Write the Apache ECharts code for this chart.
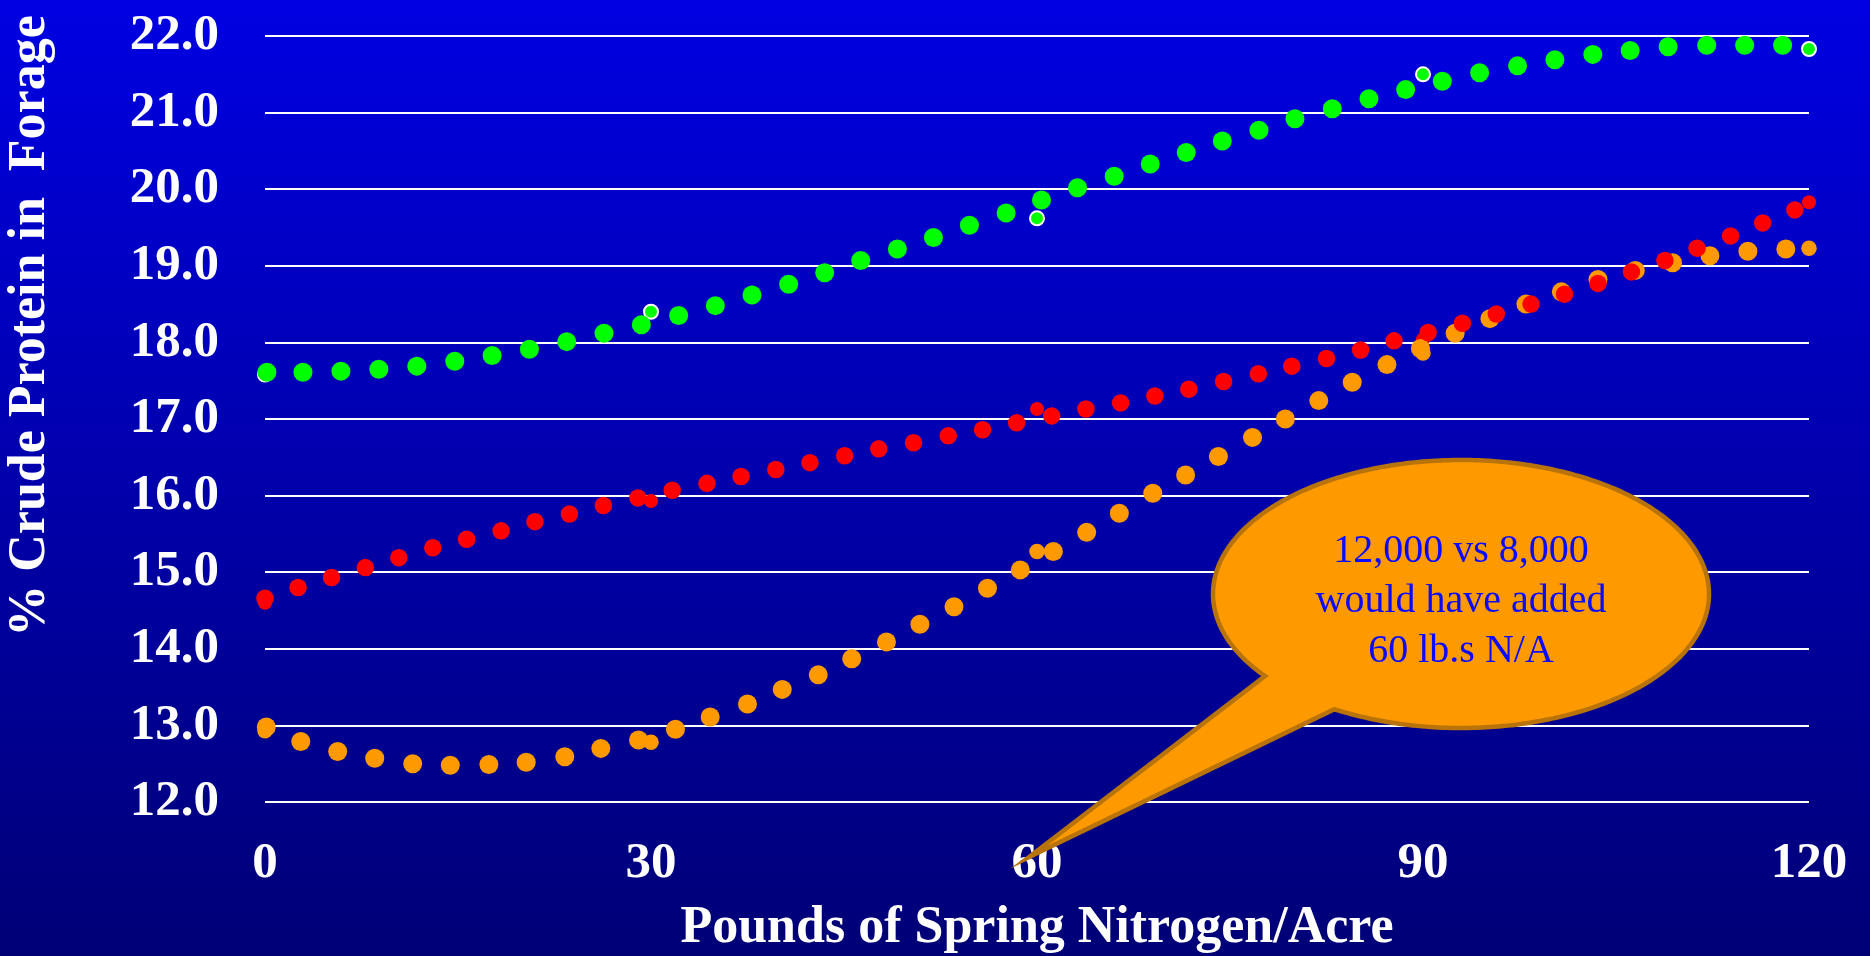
<!DOCTYPE html>
<html>
<head>
<meta charset="utf-8">
<title>Crude Protein in Forage vs Spring Nitrogen</title>
<style>
  html, body { margin: 0; padding: 0; background: #000080; }
  #chart { width: 1870px; height: 956px; }
</style>
<script src="https://cdn.jsdelivr.net/npm/echarts@6/dist/echarts.min.js"></script>
</head>
<body>
<div id="chart"></div>
<script>
// ---- data -------------------------------------------------------------
// x axis ticks (lb N / acre)
const xTicks = [0, 30, 60, 90, 120];
// y axis range (% crude protein)
const yTicks = [12, 13, 14, 15, 16, 17, 18, 19, 20, 21, 22];

// Upper (green) set: fitted curve points
const greenFitX = [0.15, 2.95, 5.9, 8.85, 11.8, 14.75, 17.65, 20.55, 23.45, 26.35, 29.25,
  32.15, 35.0, 37.85, 40.7, 43.5, 46.3, 49.15, 51.95, 54.75, 57.6, 60.35, 63.15, 66.0,
  68.8, 71.6, 74.4, 77.25, 80.05, 82.95, 85.8, 88.65, 91.5, 94.4, 97.35, 100.25, 103.2,
  106.1, 109.05, 112.05, 115.0, 117.95];
const greenFitY = [17.61, 17.61, 17.625, 17.65, 17.69, 17.755, 17.83, 17.91, 18.01, 18.12, 18.23,
  18.35, 18.48, 18.62, 18.76, 18.91, 19.07, 19.22, 19.37, 19.53, 19.69, 19.86, 20.02, 20.17,
  20.33, 20.48, 20.63, 20.77, 20.92, 21.05, 21.18, 21.30, 21.41, 21.52, 21.61, 21.69, 21.76,
  21.81, 21.86, 21.88, 21.88, 21.88];
// Upper (green) set: measured rates
const greenObsX = [0, 30, 60, 90, 120];
const greenObsY = [17.58, 18.40, 19.62, 21.50, 21.83];

// Middle (red) set: fitted curve points
const redFitX = [0, 2.57, 5.17, 7.8, 10.4, 13.04, 15.67, 18.35, 20.98, 23.66, 26.3, 28.98,
  31.65, 34.35, 37.0, 39.7, 42.35, 45.05, 47.7, 50.4, 53.1, 55.77, 58.42, 61.14, 63.8,
  66.5, 69.16, 71.8, 74.5, 77.2, 79.8, 82.5, 85.15, 87.75, 90.4, 93.06, 95.7, 98.4,
  101.0, 103.6, 106.2, 108.8, 111.3, 113.9, 116.4, 118.9];
const redFitY = [14.66, 14.80, 14.93, 15.06, 15.19, 15.32, 15.43, 15.54, 15.66, 15.76, 15.87, 15.97,
  16.07, 16.16, 16.25, 16.34, 16.43, 16.52, 16.61, 16.69, 16.78, 16.86, 16.95, 17.04, 17.13,
  17.21, 17.30, 17.39, 17.49, 17.59, 17.69, 17.79, 17.90, 18.02, 18.13, 18.25, 18.37, 18.50,
  18.63, 18.77, 18.92, 19.07, 19.23, 19.39, 19.56, 19.73];
// Middle (red) set: measured rates
const redObsX = [0, 30, 60, 90, 120];
const redObsY = [14.60, 15.93, 17.13, 18.04, 19.83];

// Lower (orange) set: fitted curve points
const orangeFitX = [0.1, 2.78, 5.65, 8.53, 11.48, 14.4, 17.4, 20.3, 23.3, 26.1, 29.03,
  31.9, 34.6, 37.5, 40.2, 43.0, 45.6, 48.3, 50.9, 53.55, 56.15, 58.7, 61.27, 63.86,
  66.4, 69.0, 71.55, 74.1, 76.75, 79.3, 81.9, 84.5, 87.2, 89.8, 92.5, 95.2, 98.0,
  100.75, 103.6, 106.5, 109.4, 112.3, 115.25, 118.2];
const orangeFitY = [12.98, 12.79, 12.66, 12.57, 12.50, 12.48, 12.49, 12.52, 12.59, 12.70, 12.81,
  12.95, 13.11, 13.28, 13.47, 13.66, 13.87, 14.09, 14.32, 14.55, 14.79, 15.03, 15.27, 15.52,
  15.77, 16.03, 16.27, 16.51, 16.76, 17.00, 17.24, 17.48, 17.71, 17.92, 18.12, 18.31, 18.50,
  18.66, 18.82, 18.94, 19.04, 19.13, 19.19, 19.22];
// Lower (orange) set: measured rates
const orangeObsX = [0, 30, 60, 90, 120];
const orangeObsY = [12.93, 12.78, 15.27, 17.86, 19.23];

// Callout text
const calloutLines = ['12,000 vs 8,000', 'would have added', '60 lb.s N/A'];

// ---- chart ------------------------------------------------------------
const SERIF = "'Liberation Serif', 'Times New Roman', serif";
const pairs = (xs, ys) => xs.map((x, i) => [x, ys[i]]);

const chart = echarts.init(document.getElementById('chart'), null, { renderer: 'canvas' });

function dots(name, xs, ys, size, color, extra) {
  return Object.assign({
    type: 'scatter',
    name: name,
    data: pairs(xs, ys),
    symbol: 'circle',
    symbolSize: size,
    itemStyle: { color: color, opacity: 1 },
    silent: true,
    clip: false
  }, extra || {});
}

const option = {
  animation: false,
  backgroundColor: {
    type: 'linear', x: 0, y: 0, x2: 0, y2: 1,
    colorStops: [
      { offset: 0, color: '#0000E2' },
      { offset: 1, color: '#000076' }
    ]
  },
  grid: { left: 265, right: 61, top: 36, bottom: 154, containLabel: false, outerBoundsMode: 'none' },
  xAxis: {
    type: 'value',
    min: xTicks[0],
    max: xTicks[xTicks.length - 1],
    interval: xTicks[1] - xTicks[0],
    axisLine: { show: false },
    axisTick: { show: false },
    splitLine: { show: false },
    axisLabel: {
      color: '#ffffff', fontFamily: SERIF, fontWeight: 'bold', fontSize: 51, margin: 36
    },
    name: 'Pounds of Spring Nitrogen/Acre',
    nameLocation: 'middle',
    nameGap: 101,
    nameTextStyle: { color: '#ffffff', fontFamily: SERIF, fontWeight: 'bold', fontSize: 52 }
  },
  yAxis: {
    type: 'value',
    min: yTicks[0],
    max: yTicks[yTicks.length - 1],
    interval: yTicks[1] - yTicks[0],
    axisLine: { show: false },
    axisTick: { show: false },
    splitLine: { show: true, lineStyle: { color: '#ffffff', width: 2 } },
    axisLabel: {
      color: '#ffffff', fontFamily: SERIF, fontWeight: 'bold', fontSize: 51, margin: 46,
      formatter: v => v.toFixed(1)
    }
  },
  series: [
    dots('Red measured', redObsX, redObsY, 14, '#FF0000'),
    dots('Orange fit', orangeFitX, orangeFitY, 19, '#FF9900'),
    dots('Orange measured', orangeObsX, orangeObsY, 15.5, '#FF9900'),
    dots('Red fit', redFitX, redFitY, 17.5, '#FF0000'),
    dots('Green measured', greenObsX, greenObsY, 14, '#00FF00',
      { itemStyle: { color: '#00FF00', borderColor: '#ffffff', borderWidth: 2, opacity: 1 } }),
    dots('Green fit', greenFitX, greenFitY, 19, '#00FF00')
  ]
};

chart.setOption(option);

// ---- annotations (vertical axis title, speech-bubble callout) ----------
const bubble = { cx: 1461, cy: 594, rx: 248, ry: 134, startDeg: 142.2, endDeg: 120.7 + 360, tip: [1029, 857] };
const bubblePts = [];
for (let a = bubble.startDeg; a < bubble.endDeg; a += 1) {
  const r = a * Math.PI / 180;
  bubblePts.push([bubble.cx + bubble.rx * Math.cos(r), bubble.cy + bubble.ry * Math.sin(r)]);
}
{
  const r = bubble.endDeg * Math.PI / 180;
  bubblePts.push([bubble.cx + bubble.rx * Math.cos(r), bubble.cy + bubble.ry * Math.sin(r)]);
}
bubblePts.push(bubble.tip);

chart.setOption({
  graphic: [
    {
      type: 'text',
      x: 31, y: 326,
      rotation: Math.PI / 2,
      z: 50,
      silent: true,
      style: {
        text: '% Crude Protein in  Forage',
        fill: '#ffffff',
        font: 'bold 52px ' + SERIF,
        align: 'center', verticalAlign: 'middle',
        textAlign: 'center', textVerticalAlign: 'middle'
      }
    },
    {
      type: 'polygon',
      z: 100,
      silent: true,
      shape: { points: bubblePts },
      style: { fill: '#FF9900', stroke: '#B8730A', lineWidth: 4.5, lineJoin: 'miter' }
    },
    {
      type: 'text',
      x: bubble.cx, y: 601,
      z: 101,
      silent: true,
      style: {
        text: calloutLines.join('\n'),
        fill: '#0A0AFF',
        font: '40px ' + SERIF,
        lineHeight: 50,
        align: 'center', verticalAlign: 'middle',
        textAlign: 'center', textVerticalAlign: 'middle'
      }
    }
  ]
});
</script>
</body>
</html>
